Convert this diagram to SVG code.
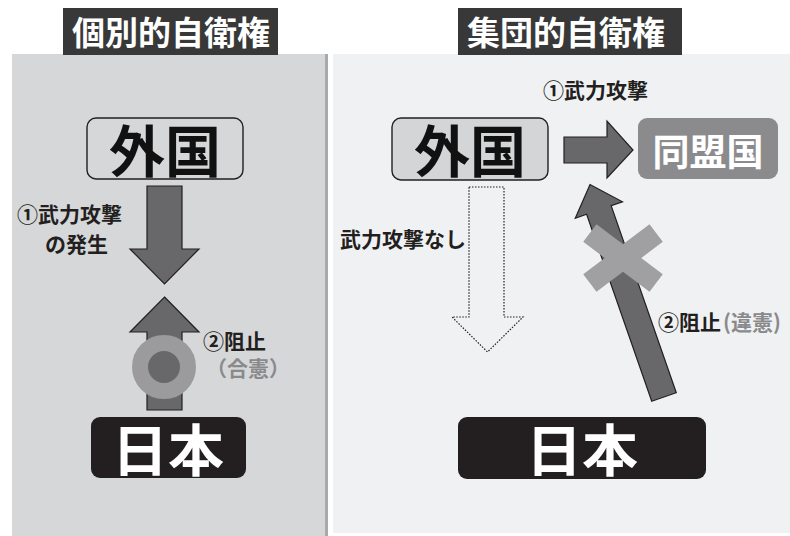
<svg xmlns="http://www.w3.org/2000/svg" width="790" height="536" viewBox="0 0 790 536">
<style>
.t{font-family:"Noto Sans CJK JP","Noto Sans CJK SC",sans-serif;font-weight:700}
.title{fill:#ffffff;font-size:33px}
.lbl{fill:#231f20;font-size:21px}
.gray{fill:#8a8a8c}
.big{font-size:56px;text-anchor:middle}
.arrow{fill:#68686a;stroke:#231f20;stroke-width:1.2;stroke-linejoin:miter}
.box{stroke:#231f20;stroke-width:1.4}
</style>
<rect x="0" y="0" width="790" height="536" fill="#ffffff"/>
<g id="panel-left">
<rect x="12" y="54" width="314" height="482" fill="#d6d7d9"/>
<rect x="325" y="54" width="3" height="482" fill="#a9aaac"/>
</g>
<g id="panel-right">
<rect x="333" y="54" width="457" height="479" fill="#f0f1f3"/>
</g>
<g id="title-left">
<rect x="63" y="8" width="215" height="47" fill="#383838"/>
<text class="t title" x="72" y="45">個別的自衛権</text>
</g>
<g id="title-right">
<rect x="458" y="8" width="224" height="47" fill="#383838"/>
<text class="t title" x="467" y="45">集団的自衛権</text>
</g>
<g id="gaikoku-left">
<rect class="box" x="87" y="118" width="156" height="61" rx="9" fill="#d6d7d9"/>
<text class="t big" x="165" y="172" fill="#111">外国</text>
</g>
<g id="nihon-left">
<rect x="91" y="417" width="155" height="61" rx="9" fill="#231f20"/>
<text class="t big" x="168" y="471" fill="#ffffff">日本</text>
</g>
<g id="gaikoku-right">
<rect class="box" x="392" y="118" width="156" height="62" rx="9" fill="#d4d5d7"/>
<text class="t big" x="470" y="172" fill="#111">外国</text>
</g>
<g id="doumeikoku">
<rect x="638" y="118" width="140" height="61" rx="9" fill="#8b8b8d"/>
<text class="t" x="708" y="166" fill="#ffffff" font-size="37" text-anchor="middle">同盟国</text>
</g>
<g id="nihon-right">
<rect x="458" y="417" width="248" height="62" rx="9" fill="#231f20"/>
<text class="t big" x="582" y="471" fill="#ffffff">日本</text>
</g>
<g id="connectors">
<polygon class="arrow" points="147,186 182,186 182,249 199,249 164.5,284 130,249 147,249"/>
<polygon class="arrow" points="164.5,297 199,332 182,332 182,410 147,410 147,332 130,332"/>
<circle cx="164" cy="367" r="24" fill="none" stroke="#9b9b9d" stroke-width="16"/>
<polygon class="arrow" points="564,137 607,137 607,121 633,150 607,178 607,163 564,163"/>
<polygon points="469,187 504,187 504,317 523,317 487.5,352 452,317 469,317" fill="none" stroke="#231f20" stroke-width="1.2" stroke-dasharray="1.5 1.5"/>
<g transform="translate(664,397) rotate(-19.2)">
<polygon class="arrow" points="-13,0 13,0 13,-198 25,-198 0,-225 -25,-198 -13,-198"/>
</g>
<g transform="translate(623,258)" fill="#a0a0a2">
<rect x="-41.5" y="-11" width="83" height="22" transform="rotate(37)"/>
<rect x="-41.5" y="-11" width="83" height="22" transform="rotate(-37)"/>
</g>
</g>
<g id="labels">
<text class="t lbl" font-size="20.5"><tspan x="17" y="222">①武力攻撃</tspan><tspan x="45" y="252">の発生</tspan></text>
<text class="t lbl"><tspan x="203" y="349">②阻止</tspan><tspan class="gray" x="206" y="376">（合憲）</tspan></text>
<text class="t lbl" x="543" y="98" font-size="22">①武力攻撃</text>
<text class="t lbl" x="340" y="247" font-size="20.5">武力攻撃なし</text>
<text class="t lbl" x="658" y="330">②阻止<tspan class="gray" dx="2">(違憲)</tspan></text>
</g>
</svg>
